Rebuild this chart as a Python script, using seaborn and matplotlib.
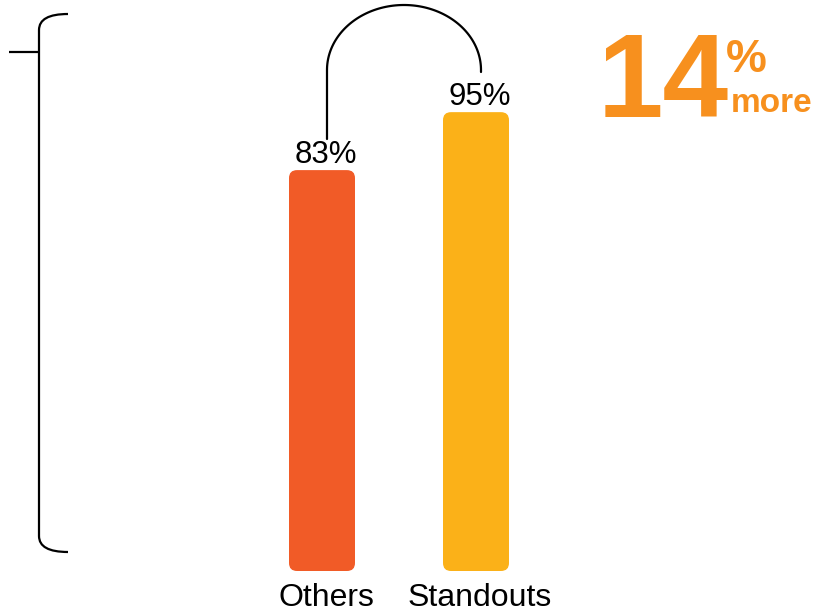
import numpy as np
import pandas as pd
import seaborn as sns
import matplotlib
matplotlib.use("Agg")
import matplotlib.pyplot as plt
from matplotlib.patches import FancyBboxPatch, PathPatch
from matplotlib.path import Path
from matplotlib.transforms import ScaledTranslation

categories = ["Others", "Standouts"]
values = [83, 95]
value_labels = ["83%", "95%"]
bar_colors = ["#F15B27", "#FBB118"]
headline_number = "14"
headline_unit = "%"
headline_word = "more"
accent = "#F7901E"

W, H = 820, 612
PX_X = 154.0   # pixels per category step
PX_Y = 4.83    # pixels per percentage point
BASE = 571     # pixel row of zero line (from top)

sns.set_theme(style="white")
plt.rcParams["font.family"] = ["Liberation Sans", "DejaVu Sans"]

fig = plt.figure(figsize=(W / 100, H / 100), dpi=100)
ax = fig.add_axes([0, (H - BASE) / H, 1, BASE / H])

df = pd.DataFrame({"group": categories, "share": values})
sns.barplot(data=df, x="group", y="share", hue="group", palette=bar_colors,
            width=66 / PX_X, legend=False, ax=ax, saturation=1)

ax.set_xlim(-322 / PX_X, (W - 322) / PX_X)
ax.set_ylim(0, BASE / PX_Y)

# swap plain rectangles for rounded ones
r = 8.0
for p in list(ax.patches):
    x, y = p.get_x(), p.get_y()
    w, h = p.get_width(), p.get_height()
    fb = FancyBboxPatch((x, y), w, h,
                        boxstyle=f"round,pad=0,rounding_size={r / PX_X}",
                        mutation_aspect=PX_X / PX_Y,
                        facecolor=p.get_facecolor(), edgecolor="none")
    p.remove()
    ax.add_patch(fb)

for i, (v, lab) in enumerate(zip(values, value_labels)):
    ax.annotate(lab, (i, v), xytext=(3, 5), textcoords="offset points",
                ha="center", va="baseline", fontsize=22.5, color="black")

ax.set_xlabel("")
ax.set_ylabel("")
ax.set_yticks([])
ax.tick_params(axis="x", length=0, pad=9, labelsize=23, labelcolor="black")
shift = ScaledTranslation(4 / 100, 0, fig.dpi_scale_trans)
for lbl in ax.get_xticklabels():
    lbl.set_transform(lbl.get_transform() + shift)
sns.despine(ax=ax, left=True, bottom=True)

# overlay in pixel coordinates for the bracket and connector
ov = fig.add_axes([0, 0, 1, 1], zorder=3)
ov.set_xlim(0, W)
ov.set_ylim(H, 0)
ov.axis("off")

bracket = Path(
    [(68, 14), (39, 14), (39, 30), (39, 536), (39, 552), (68, 552)],
    [Path.MOVETO, Path.CURVE3, Path.CURVE3, Path.LINETO, Path.CURVE3, Path.CURVE3],
)
ov.add_patch(PathPatch(bracket, facecolor="none", edgecolor="black", lw=1.6))
ov.plot([9, 39], [52, 52], color="black", lw=1.6, solid_capstyle="butt")

t = np.linspace(np.pi, 2 * np.pi, 100)
cx, cy, rx, ry = 404, 70, 77, 65
arc_x = np.concatenate([[327], cx + rx * np.cos(t), [481]])
arc_y = np.concatenate([[139], cy + ry * np.sin(t), [72]])
ov.plot(arc_x, arc_y, color="black", lw=1.6)

ov.text(598, 117, headline_number, fontsize=85, fontweight="bold",
        color=accent, ha="left", va="baseline")
ov.text(726, 72, headline_unit, fontsize=33, fontweight="bold",
        color=accent, ha="left", va="baseline")
ov.text(731, 112, headline_word, fontsize=24, fontweight="bold",
        color=accent, ha="left", va="baseline")

fig.savefig("out.png", dpi=100)
